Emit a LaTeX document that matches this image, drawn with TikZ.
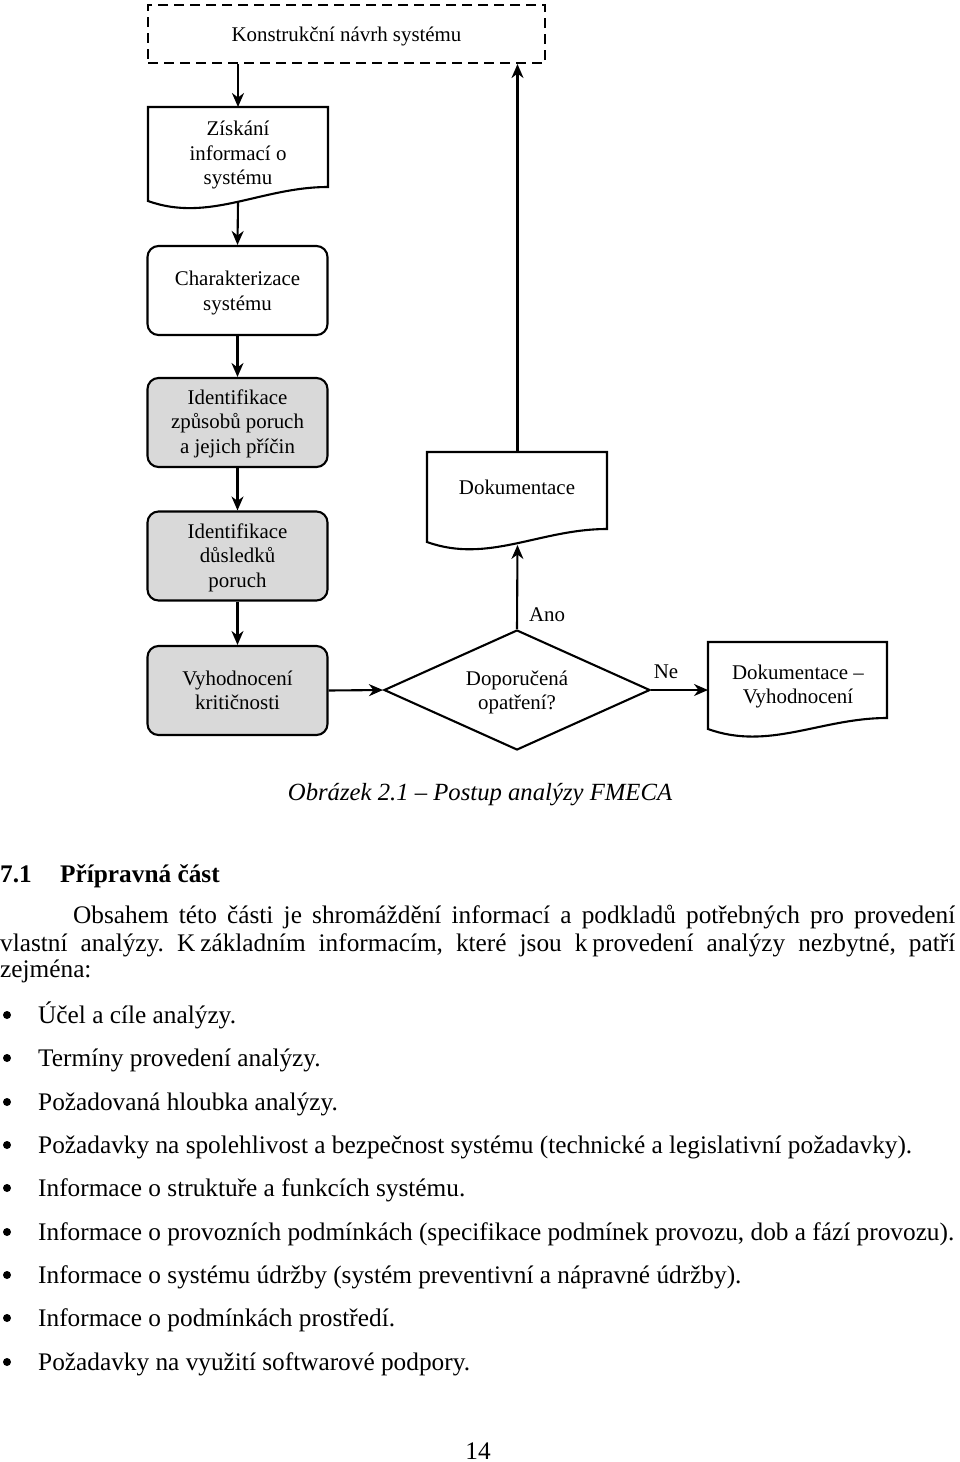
\documentclass[tikz,border=0pt]{standalone}
\usepackage{fontspec}
\setmainfont{Liberation Serif}
\usetikzlibrary{arrows.meta,shapes.geometric}
\tikzset{
  flowfont/.style={font=\fontsize{20.9}{24.5}\selectfont},
  bodyfont/.style={font=\fontsize{25.3}{29}\selectfont},
  procbox/.style={draw,line width=2.1pt,rounded corners=11pt,minimum width=180pt,minimum height=89pt,align=center,flowfont,inner sep=0pt},
  graybox/.style={procbox,fill=black!15},
  docline/.style={draw,line width=2.1pt,line join=miter},
  plain/.style={align=center,flowfont,inner sep=0pt},
  arr/.style={line width=2.1pt,-{Stealth[length=14pt,width=12pt,inset=4.5pt]}},
  bodytext/.style={anchor=base west,inner sep=0pt,bodyfont},
  bul/.style={circle,fill=black,inner sep=0pt,minimum size=8pt}
}
\begin{document}
\frenchspacing
\begin{tikzpicture}[x=1pt,y=-1pt]
\useasboundingbox (0,0) rectangle (960,1462);
% dashed box
\node[draw,dashed,dash pattern=on 10pt off 6pt,line width=2.1pt,minimum width=397pt,minimum height=58pt,inner sep=0pt] (konst) at (346.5,34) {};
\node[plain] (konstT) at (346.5,36.5) {Konstrukční návrh systému};
% Ziskani document
\draw[docline] (148,107) -- (328,107) -- (328,187) .. controls (261,187) and (209,223) .. (148,201) -- cycle;
\node[plain] (ziskani) at (238,155) {Získání\\informací o\\systému};
\coordinate (zTop) at (238,107);
\coordinate (zBot) at (238,202);
% process boxes
\node[procbox] (char) at (237.5,290.5) {};
\node[plain] (charT) at (237.5,293) {Charakterizace\\systému};
\node[graybox] (ident1) at (237.5,422.5) {};
\node[plain] (ident1T) at (237.5,423.5) {Identifikace\\způsobů poruch\\a jejich příčin};
\node[graybox] (ident2) at (237.5,556) {};
\node[plain] (ident2T) at (237.5,557.5) {Identifikace\\důsledků\\poruch};
\node[graybox] (vyh) at (237.5,690.5) {};
\node[plain] (vyhT) at (237.5,690.5) {Vyhodnocení\\kritičnosti};
% decision
\node[draw,diamond,line width=2.1pt,minimum width=266pt,minimum height=120pt,inner sep=0pt] (dec) at (517,690) {};
\node[plain] (decT) at (517,692.5) {Doporučená\\opatření?};
% Dokumentace document
\draw[docline] (427,452) -- (607,452) -- (607,529) .. controls (540,529) and (488,564) .. (427,542) -- cycle;
\node[plain] (dok) at (517,487.5) {Dokumentace};
\coordinate (dTop) at (517.5,452);
\coordinate (dBot) at (517.5,545);
% Dokumentace - Vyhodnoceni
\draw[docline] (708,642) -- (887,642) -- (887,718) .. controls (821,718) and (769,751) .. (708,729) -- cycle;
\node[plain] (dokvyh) at (798,686.5) {Dokumentace –\\Vyhodnocení};
\coordinate (dvLeft) at (708,690);
% connectors
\draw[arr] (konst.south -| zTop) -- (zTop);
\draw[arr] (zBot) -- (char.north);
\draw[arr] (char) -- (ident1);
\draw[arr] (ident1) -- (ident2);
\draw[arr] (ident2) -- (vyh);
\draw[arr] (vyh.east) -- (dec.west);
\draw[arr] (dec.north) -- (dBot);
\draw[arr] (dec.east) -- (dvLeft);
\draw[arr] (dTop) -- (konst.south -| dTop);
\node[plain] (ano) at (547,615) {Ano};
\node[plain] (ne) at (666,672) {Ne};
% caption and text
\node[anchor=base,inner sep=0pt,font=\fontsize{24.7}{29}\selectfont\itshape] (cap) at (480,800) {Obrázek 2.1 – Postup analýzy FMECA};
\node[bodytext,font=\fontsize{25.3}{29}\selectfont\bfseries] (h1) at (0,882) {7.1};
\node[bodytext,font=\fontsize{25.3}{29}\selectfont\bfseries] (h2) at (60,882) {Přípravná část};
\node[bodytext] (p1) at (73,923) {\makebox[882pt][s]{Obsahem této části je shromáždění informací a podkladů potřebných pro provedení}};
\node[bodytext] (p2) at (0,951) {\makebox[955pt][s]{vlastní analýzy. K\hspace{5pt}základním informacím, které jsou k\hspace{5pt}provedení analýzy nezbytné, patří}};
\node[bodytext] (p3) at (0,977) {zejména:};
\foreach \y/\t [count=\i] in {1023/{Účel a cíle analýzy.},1066/{Termíny provedení analýzy.},1110/{Požadovaná hloubka analýzy.},1153/{Požadavky na spolehlivost a bezpečnost systému (technické a legislativní požadavky).},1196/{Informace o struktuře a funkcích systému.},1240/{Informace o provozních podmínkách (specifikace podmínek provozu, dob a fází provozu).},1283/{Informace o systému údržby (systém preventivní a nápravné údržby).},1326/{Informace o podmínkách prostředí.},1370/{Požadavky na využití softwarové podpory.}}{
  \node[bul] (b\i) at (7,\y-8) {};
  \node[bodytext] (t\i) at (38,\y) {\t};
}
\node[anchor=base,inner sep=0pt,bodyfont] (pg) at (478,1459) {14};
\end{tikzpicture}
\end{document}
